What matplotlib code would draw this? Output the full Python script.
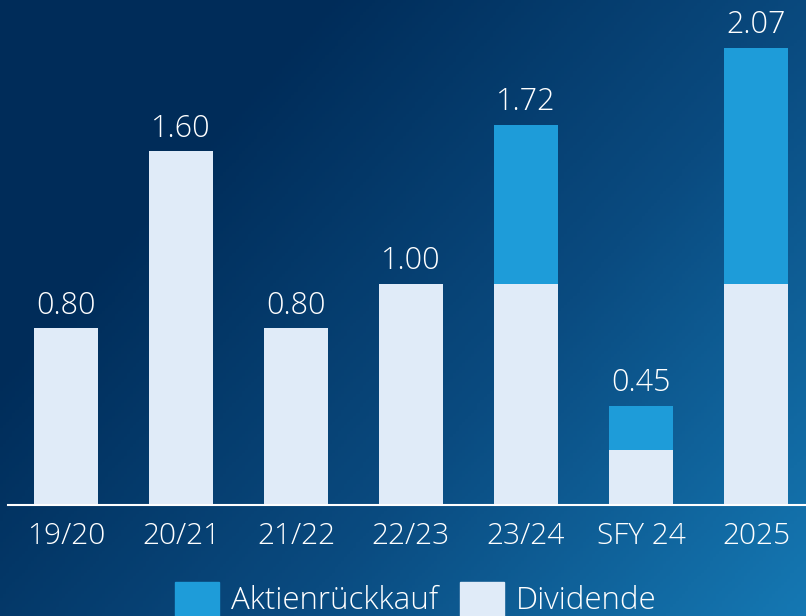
import numpy as np
import matplotlib
matplotlib.use("Agg")
import matplotlib.pyplot as plt
from matplotlib.colors import LinearSegmentedColormap
from matplotlib.patches import Rectangle

categories = ["19/20", "20/21", "21/22", "22/23", "23/24", "SFY 24", "2025"]
dividende = [0.80, 1.60, 0.80, 1.00, 1.00, 0.25, 1.00]
aktienrueckkauf = [0.00, 0.00, 0.00, 0.00, 0.72, 0.20, 1.07]
totals = ["0.80", "1.60", "0.80", "1.00", "1.72", "0.45", "2.07"]
legend_labels = ["Aktienrückkauf", "Dividende"]

c_div = "#e0ebf8"
c_buy = "#1e9cd9"
font = "Open Sans"
fw = "light"

W, H = 806, 616
fig = plt.figure(figsize=(W / 100, H / 100), dpi=100)

# background gradient
bg = fig.add_axes([0, 0, 1, 1])
bg.set_axis_off()
yy, xx = np.mgrid[0:1:200j, 0:1:260j]
t = 0.75 * xx + 0.5 * yy - 0.3
t = np.clip(t, 0, None)
t = t / t.max()
cmap = LinearSegmentedColormap.from_list("bg", ["#002c59", "#0a4b80", "#1578b3"])
bg.imshow(t, cmap=cmap, aspect="auto", extent=[0, 1, 0, 1], origin="upper")
bg.set_xlim(0, 1)
bg.set_ylim(0, 1)

ax = fig.add_axes([0, (H - 505) / H, 1, 505 / H])
ax.patch.set_alpha(0)
x = np.arange(len(categories))
left_px = 8
c0, step = 66, 115
ax.set_xlim((0 - c0) / step, (W - c0) / step)
ax.set_ylim(0, 505 / 221)
bw = 64 / step
ax.bar(x, dividende, width=bw, color=c_div, zorder=2)
ax.bar(x, aktienrueckkauf, width=bw, bottom=dividende, color=c_buy, zorder=2)
for xi, d, a, lab in zip(x, dividende, aktienrueckkauf, totals):
    ax.text(xi, d + a + 0.03, lab, ha="center", va="bottom", color="white",
            fontsize=22, family=font, fontweight=fw)
for s in ["top", "right", "left"]:
    ax.spines[s].set_visible(False)
ax.spines["bottom"].set_color("white")
ax.spines["bottom"].set_linewidth(1.5)
ax.spines["bottom"].set_bounds((left_px - c0) / step, (W - c0) / step)
ax.set_yticks([])
ax.set_xticks(x)
ax.set_xticklabels(categories, color="white", fontsize=21.5, family=font, fontweight=fw)
ax.tick_params(axis="x", length=0, pad=12)

# legend
for (x0, col), lab, tx in zip([(175, c_buy), (460, c_div)], legend_labels, [231, 516]):
    fig.patches.append(Rectangle((x0 / W, 0), 44 / W, (616 - 582) / H,
                                 transform=fig.transFigure, color=col, zorder=5))
    fig.text(tx / W, (616 - 609) / H, lab, ha="left", va="baseline", color="white",
             fontsize=22.5, family=font, fontweight=fw, zorder=6)

fig.savefig("out.png", dpi=100)
